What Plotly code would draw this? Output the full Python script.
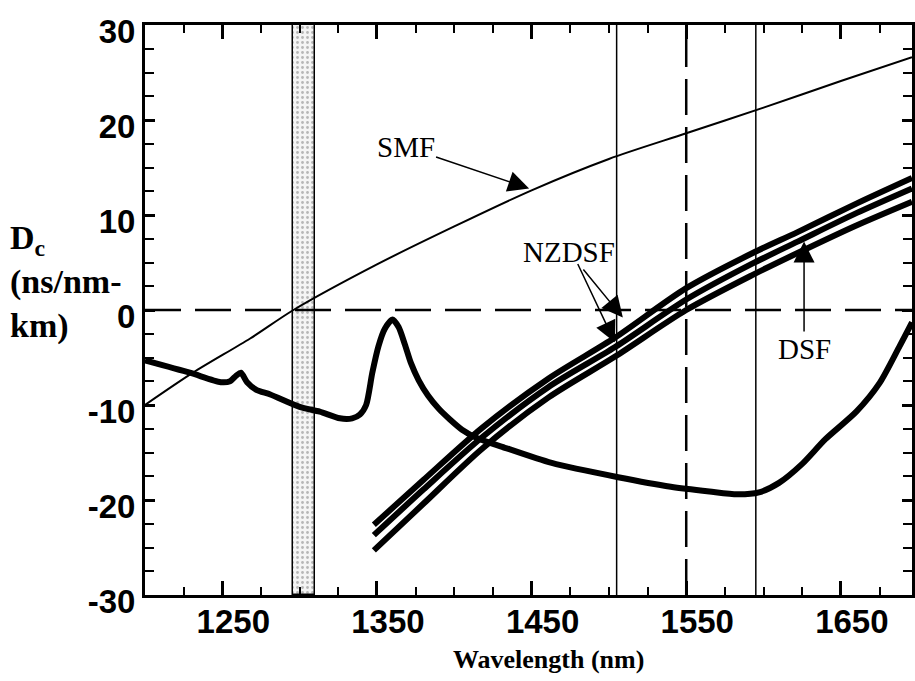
import plotly.graph_objects as go

# ---------------- data ----------------
smf_lam = [1200, 1231, 1268, 1296, 1350, 1400, 1450, 1500, 1550, 1600, 1650, 1696]
smf_D = [-10.0, -6.6, -3.0, 0.0, 4.8, 8.8, 12.6, 15.9, 18.6, 21.3, 24.1, 26.6]

thick_lam = [1200, 1229, 1249, 1255, 1259, 1262, 1266, 1272, 1281, 1300, 1313, 1326, 1334,
             1339, 1343, 1347, 1351, 1355, 1360, 1364, 1368, 1372, 1377, 1383, 1390, 1397,
             1405, 1415, 1431, 1463, 1506, 1540, 1565, 1583, 1597, 1610, 1625, 1640,
             1660, 1675, 1688, 1696]
thick_D = [-5.3, -6.6, -7.6, -7.5, -6.9, -6.6, -7.6, -8.4, -8.9, -10.2, -10.7, -11.4, -11.4,
           -11.0, -10.0, -6.6, -3.8, -2.0, -1.0, -1.8, -3.6, -5.6, -7.4, -9.0, -10.4, -11.5,
           -12.6, -13.5, -14.4, -16.1, -17.6, -18.6, -19.1, -19.4, -19.2, -18.2, -16.2, -13.6,
           -10.7, -7.7, -3.8, -1.3]

fiber_lam = [1348, 1380, 1418, 1461, 1504, 1550, 1593, 1622, 1660, 1696]
nzdsf1_D = [-22.6, -17.9, -12.4, -7.2, -2.9, 2.3, 6.0, 8.2, 11.2, 13.9]
nzdsf2_D = [-23.7, -18.9, -13.4, -8.1, -3.9, 1.1, 4.9, 7.2, 10.2, 12.8]
dsf_D = [-25.3, -20.4, -14.6, -9.2, -4.9, 0.0, 3.7, 6.0, 8.9, 11.4]

band_lam = [1296, 1310]          # shaded zero-dispersion band (start, end)
solid_vlines = [1505, 1595]
dashed_vline = [1550]
zero_line = [0]

x_tickvals = [1250, 1350, 1450, 1550, 1650]
x_ticktext = ["1250", "1350", "1450", "1550", "1650"]
x_minor = [1200 + 25 * i for i in range(21) if (1200 + 25 * i) not in x_tickvals]
y_tickvals = [-30, -20, -10, 0, 10, 20, 30]
y_ticktext = ["-30", "-20", "-10", "0", "10", "20", "30"]
y_minor = [-30 + 2.5 * i for i in range(25) if (-30 + 2.5 * i) not in y_tickvals]

X_RANGE = [1200, 1696]
Y_RANGE = [-30, 30]

SERIF = "Liberation Serif, Times New Roman, serif"
SANS = "Liberation Sans, Arial, sans-serif"

fig = go.Figure()

# shaded band
fig.add_trace(go.Bar(
    x=[(band_lam[0] + band_lam[1]) / 2], y=[Y_RANGE[1] - Y_RANGE[0]], base=[Y_RANGE[0]],
    width=[band_lam[1] - band_lam[0]],
    marker=dict(color="white", line=dict(color="black", width=1.5),
                pattern=dict(shape=".", fgcolor="#777", bgcolor="#f4f4f4", size=5, solidity=0.25)),
    showlegend=False, hoverinfo="skip"))

fig.add_trace(go.Scatter(x=smf_lam, y=smf_D, mode="lines",
                         line=dict(color="black", width=2, shape="spline", smoothing=0.8),
                         showlegend=False))
fig.add_trace(go.Scatter(x=thick_lam, y=thick_D, mode="lines",
                         line=dict(color="black", width=6, shape="spline", smoothing=0.7),
                         showlegend=False))
for d in (nzdsf1_D, nzdsf2_D, dsf_D):
    fig.add_trace(go.Scatter(x=fiber_lam, y=d, mode="lines",
                             line=dict(color="black", width=6, shape="spline", smoothing=0.8),
                             showlegend=False))

shapes = []
for v in solid_vlines:
    shapes.append(dict(type="line", xref="x", yref="paper", x0=v, x1=v, y0=0, y1=1,
                       line=dict(color="black", width=1.5), layer="below"))
for v in dashed_vline:
    shapes.append(dict(type="line", xref="x", yref="paper", x0=v, x1=v, y0=0, y1=1,
                       line=dict(color="black", width=2.5, dash="36px,12px"), layer="below"))
for h in zero_line:
    shapes.append(dict(type="line", xref="paper", yref="y", x0=0, x1=1, y0=h, y1=h,
                       line=dict(color="black", width=2.5, dash="36px,14px"), layer="above"))

ann_font = dict(family=SERIF, size=29, color="black")
arrow_kw = dict(showarrow=True, arrowhead=2, arrowsize=2.8, arrowwidth=1.5, arrowcolor="black",
                axref="x", ayref="y")
annotations = [
    dict(x=1448.4, y=12.8, ax=1368.5, ay=17.2, text="SMF", font=ann_font, **arrow_kw),
    dict(x=1509, y=-0.8, ax=1474.2, ay=6.1, text="NZDSF", font=ann_font, **arrow_kw),
    dict(x=1503.8, y=-3.4, ax=1479.4, ay=5.0, text="", font=ann_font, **arrow_kw),
    dict(x=1626.2, y=7.2, ax=1626.2, ay=-4.1, text="DSF", font=ann_font, **arrow_kw),
    dict(x=0.526, y=-0.114, xref="paper", yref="paper", text="<b>Wavelength (nm)</b>",
         showarrow=False, font=dict(family=SERIF, size=26, color="black"),
         xanchor="center", yanchor="middle"),
    dict(x=-0.178, y=0.55, xref="paper", yref="paper",
         text="<b>D<sub>c</sub><br>(ns/nm-<br>km)</b>", align="left",
         showarrow=False, font=dict(family=SERIF, size=34, color="black"),
         xanchor="left", yanchor="middle"),
]

tickfont = dict(family=SANS, size=33, color="black", weight="bold")

fig.update_layout(
    width=915, height=681,
    margin=dict(l=145, r=0, t=25, b=86),
    paper_bgcolor="white", plot_bgcolor="white",
    shapes=shapes, annotations=annotations,
    showlegend=False, bargap=0,
    xaxis=dict(range=X_RANGE, showgrid=False, zeroline=False,
               showline=True, linecolor="black", linewidth=3, mirror="ticks",
               ticks="inside", ticklen=14, tickwidth=2.5, tickcolor="black",
               tickmode="array", tickvals=x_tickvals, ticktext=x_ticktext, tickfont=tickfont,
               ticklabelshift=11, ticklabelstandoff=-5,
               minor=dict(tickmode="array", tickvals=x_minor, ticks="inside", ticklen=8,
                          tickwidth=2, tickcolor="black", showgrid=False)),
    yaxis=dict(range=Y_RANGE, showgrid=False, zeroline=False,
               showline=True, linecolor="black", linewidth=3, mirror="ticks",
               ticks="inside", ticklen=10, tickwidth=2.5, tickcolor="black",
               tickmode="array", tickvals=y_tickvals, ticktext=y_ticktext, tickfont=tickfont,
               ticklabelshift=6, ticklabelstandoff=0,
               minor=dict(tickmode="array", tickvals=y_minor, ticks="inside", ticklen=9,
                          tickwidth=2, tickcolor="black", showgrid=False)),
)

fig.write_html("out.html", config={"displayModeBar": False})
